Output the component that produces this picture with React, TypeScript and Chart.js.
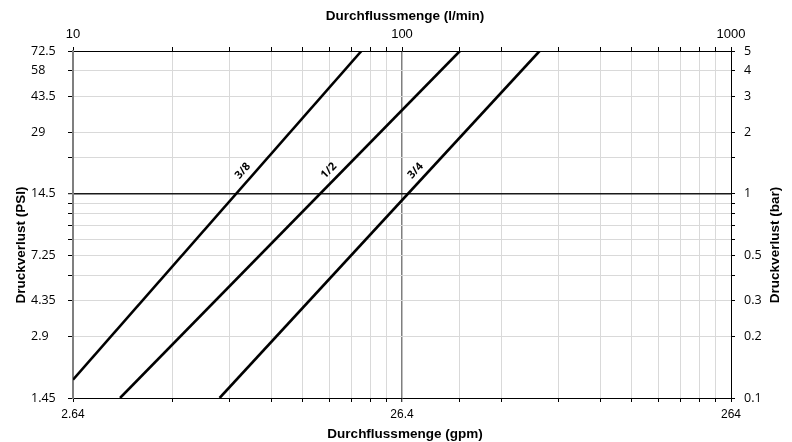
import React, { useEffect, useRef } from 'react';
import { Chart, registerables } from 'chart.js';

Chart.register(...registerables);

// Series: flow (l/min) vs pressure drop (bar), straight lines on log-log axes
const seriesLabels = ['3/8', '1/2', '3/4'];
const flow38 = [10, 75.3];
const drop38 = [0.1229, 5];
const flow12 = [13.9, 150];
const drop12 = [0.1, 5];
const flow34 = [27.9, 262];
const drop34 = [0.1, 5];

// Tick labels
const lpmTicks = [10, 100, 1000];
const lpmLabels = ['10', '100', '1000'];
const gpmLabels = ['2.64', '26.4', '264'];
const barTicks = [5, 4, 3, 2, 1, 0.5, 0.3, 0.2, 0.1];
const barLabels = ['5', '4', '3', '2', '1', '0.5', '0.3', '0.2', '0.1'];
const psiLabels = ['72.5', '58', '43.5', '29', '14.5', '7.25', '4.35', '2.9', '1.45'];

// Series label position (pressure value in bar where the label sits on each line)
const labelAtBar = 1.2;

const titleTop = 'Durchflussmenge (l/min)';
const titleBottom = 'Durchflussmenge (gpm)';
const titleLeft = 'Druckverlust (PSI)';
const titleRight = 'Druckverlust (bar)';

function near(a: number, b: number) {
  return Math.abs(a - b) / Math.abs(b) < 1e-6;
}
function labelFor(v: number, ticks: number[], labels: string[]) {
  for (let i = 0; i < ticks.length; i++) if (near(v, ticks[i])) return labels[i];
  return '';
}
function toPoints(xs: number[], ys: number[]) {
  return xs.map((x, i) => ({ x, y: ys[i] }));
}

const sansFont = "'Liberation Sans', Arial, sans-serif";
const openFont = "'Open Sans', sans-serif";

const annotate = {
  id: 'annotate',
  afterDatasetsDraw(chart: any) {
    const { ctx } = chart;
    const xs = chart.scales.x;
    const ys = chart.scales.y;
    chart.data.datasets.forEach((ds: any, i: number) => {
      const pts = ds.data;
      const a = { x: xs.getPixelForValue(pts[0].x), y: ys.getPixelForValue(pts[0].y) };
      const b = { x: xs.getPixelForValue(pts[1].x), y: ys.getPixelForValue(pts[1].y) };
      const py = ys.getPixelForValue(labelAtBar);
      const t = (py - a.y) / (b.y - a.y);
      const px = a.x + t * (b.x - a.x);
      const ang = Math.atan2(b.y - a.y, b.x - a.x);
      ctx.save();
      ctx.translate(px, py);
      ctx.rotate(ang);
      ctx.font = `bold 11px ${openFont}`;
      ctx.fillStyle = '#000';
      ctx.textAlign = 'center';
      ctx.textBaseline = 'middle';
      ctx.fillText(seriesLabels[i], 0, -10);
      ctx.restore();
    });

    ctx.save();
    ctx.font = `bold 13.5px ${sansFont}`;
    ctx.fillStyle = '#000';
    ctx.textAlign = 'center';
    ctx.textBaseline = 'middle';
    ctx.fillText(titleTop, 405, 16);
    ctx.fillText(titleBottom, 405, 434);
    ctx.save();
    ctx.translate(21, 245);
    ctx.rotate(-Math.PI / 2);
    ctx.fillText(titleLeft, 0, 0);
    ctx.restore();
    ctx.save();
    ctx.translate(775, 245);
    ctx.rotate(-Math.PI / 2);
    ctx.fillText(titleRight, 0, 0);
    ctx.restore();
    ctx.restore();
  },
};

export default function App() {
  const ref = useRef<HTMLCanvasElement | null>(null);

  useEffect(() => {
    if (!ref.current) return;
    const lineStyle = {
      borderColor: '#000',
      borderWidth: 2.6,
      pointRadius: 0,
      fill: false,
      tension: 0,
      xAxisID: 'x',
      yAxisID: 'y',
    };
    const chart = new Chart(ref.current, {
      type: 'line',
      data: {
        datasets: [
          { label: seriesLabels[0], data: toPoints(flow38, drop38), ...lineStyle },
          { label: seriesLabels[1], data: toPoints(flow12, drop12), ...lineStyle },
          { label: seriesLabels[2], data: toPoints(flow34, drop34), ...lineStyle },
        ],
      },
      options: {
        responsive: false,
        animation: false,
        layout: { padding: { left: 31, right: 0, top: 0, bottom: 0 } },
        plugins: { legend: { display: false }, tooltip: { enabled: false } },
        scales: {
          x: {
            type: 'logarithmic',
            position: 'bottom',
            min: 10,
            max: 1000,
            afterFit: (s: any) => { s.height = 44; },
            grid: {
              color: (c: any) => (c.tick && near(c.tick.value, 100) ? '#7f7f7f' : '#d9d9d9'),
              lineWidth: (c: any) => (c.tick && near(c.tick.value, 100) ? 1.5 : 1),
              tickColor: '#000',
              tickWidth: 1,
              tickLength: 4,
            },
            border: { color: '#000', width: 1 },
            ticks: {
              autoSkip: false,
              maxRotation: 0,
              padding: 5,
              color: '#000',
              font: { family: sansFont, size: 12 },
              callback: (v: any) => labelFor(Number(v), lpmTicks, gpmLabels),
            },
          },
          x2: {
            type: 'logarithmic',
            position: 'top',
            min: 10,
            max: 1000,
            afterFit: (s: any) => { s.height = 51; },
            grid: { drawOnChartArea: false, tickColor: '#000', tickWidth: 1, tickLength: 4 },
            border: { color: '#000', width: 1 },
            ticks: {
              autoSkip: false,
              maxRotation: 0,
              padding: 5,
              color: '#000',
              font: { family: sansFont, size: 13 },
              callback: (v: any) => labelFor(Number(v), lpmTicks, lpmLabels),
            },
          },
          y: {
            type: 'logarithmic',
            position: 'left',
            min: 0.1,
            max: 5,
            afterFit: (s: any) => { s.width = 42; },
            grid: {
              color: (c: any) => (c.tick && near(c.tick.value, 1) ? '#1a1a1a' : '#d9d9d9'),
              lineWidth: (c: any) => (c.tick && near(c.tick.value, 1) ? 1.4 : 1),
              tickColor: '#000',
              tickWidth: 1,
              tickLength: 5,
            },
            border: { color: '#7f7f7f', width: 2 },
            ticks: {
              autoSkip: false,
              crossAlign: 'far',
              color: '#000',
              font: { family: openFont, size: 12.5 },
              callback: (v: any) => labelFor(Number(v), barTicks, psiLabels),
            },
          },
          y2: {
            type: 'logarithmic',
            position: 'right',
            min: 0.1,
            max: 5,
            afterFit: (s: any) => { s.width = 61; },
            grid: { drawOnChartArea: false, tickColor: '#000', tickWidth: 1, tickLength: 4 },
            border: { color: '#000', width: 1 },
            ticks: {
              autoSkip: false,
              crossAlign: 'near',
              padding: 9,
              color: '#000',
              font: { family: openFont, size: 12.5 },
              callback: (v: any) => labelFor(Number(v), barTicks, barLabels),
            },
          },
        },
      } as any,
      plugins: [annotate],
    });
    return () => chart.destroy();
  }, []);

  return (
    <div style={{ position: 'fixed', left: 0, top: 0, width: 792, height: 442, background: '#fff' }}>
      <canvas ref={ref} width={792} height={442} style={{ display: 'block', width: 792, height: 442 }} />
    </div>
  );
}
